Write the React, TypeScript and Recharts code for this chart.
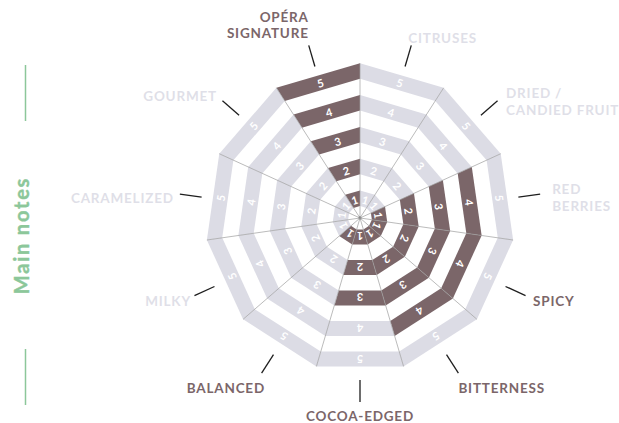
import { PieChart, Pie } from 'recharts'

// categories clockwise from the top
const categories = [
  'OPÉRA\nSIGNATURE',
  'CITRUSES',
  'DRIED /\nCANDIED FRUIT',
  'RED\nBERRIES',
  'SPICY',
  'BITTERNESS',
  'COCOA-EDGED',
  'BALANCED',
  'MILKY',
  'CARAMELIZED',
  'GOURMET',
]
const scores = [5, 0, 0, 4, 4, 4, 3, 1, 0, 0, 0]
const highlighted = [true, false, false, false, true, true, true, true, false, false, false]
const levels = [1, 2, 3, 4, 5]

const rows = categories.map((name, i) => ({ name, value: 1, score: scores[i], highlighted: highlighted[i] }))

const DARK = '#7b6669'
const LIGHT = '#dcdce5'
const LABEL_LIGHT = '#dfdfe8'
const GREEN = '#8cc79a'
const FONT = 'Lato, "Open Sans", sans-serif'

const CX = 360
const CY = 218
const STEP = 31.8
const FIRST_OUTER = 27.5
const THICK = 15.5
const outerOf = (level: number) => FIRST_OUTER + STEP * (level - 1)

const START = 90 + 360 / 11
const RAD = Math.PI / 180
const pt = (cx: number, cy: number, r: number, a: number) => [cx + r * Math.cos(-a * RAD), cy + r * Math.sin(-a * RAD)]

// text placement next to each leader end: anchor, dx, dy (first baseline)
const labelLayout: { anchor: 'start' | 'middle' | 'end'; dx: number; dy: number }[] = [
  { anchor: 'end', dx: 0, dy: -23.4 },
  { anchor: 'start', dx: -3, dy: -2.4 },
  { anchor: 'start', dx: 8.5, dy: -2.8 },
  { anchor: 'start', dx: 12, dy: 0 },
  { anchor: 'start', dx: 7.5, dy: 10.4 },
  { anchor: 'start', dx: 0, dy: 20 },
  { anchor: 'middle', dx: 0, dy: 18.5 },
  { anchor: 'end', dx: 3.4, dy: 20 },
  { anchor: 'end', dx: -3.5, dy: 10.4 },
  { anchor: 'end', dx: -6, dy: 9 },
  { anchor: 'end', dx: -5.5, dy: 0 },
]

const renderBand = (level: number) => (p: any) => {
  const { cx, cy, startAngle, endAngle, innerRadius, outerRadius } = p
  const score = p.score ?? p.payload?.score ?? 0
  const pts = [
    pt(cx, cy, innerRadius, startAngle),
    pt(cx, cy, outerRadius, startAngle),
    pt(cx, cy, outerRadius, endAngle),
    pt(cx, cy, innerRadius, endAngle),
  ]
  const mid = (startAngle + endAngle) / 2
  const half = Math.abs(startAngle - endAngle) / 2
  const r = ((innerRadius + outerRadius) / 2) * Math.cos(half * RAD)
  const [tx, ty] = pt(cx, cy, r, mid)
  return (
    <g key={`band-${level}-${p.index}`}>
      <polygon points={pts.map((q) => q.join(',')).join(' ')} fill={score >= level ? DARK : LIGHT} stroke="none" />
      <text
        x={tx}
        y={ty}
        transform={`rotate(${90 - mid} ${tx} ${ty})`}
        textAnchor="middle"
        dominantBaseline="central"
        fill="#fff"
        fontFamily={FONT}
        fontWeight={700}
        fontSize={11}
      >
        {level}
      </text>
    </g>
  )
}

const renderAxis = (p: any) => {
  const { cx, cy, startAngle, endAngle, outerRadius, index } = p
  const mid = (startAngle + endAngle) / 2
  const [vx, vy] = pt(cx, cy, outerRadius, startAngle)
  const [l1x, l1y] = pt(cx, cy + 2, 160, mid)
  const [l2x, l2y] = pt(cx, cy + 2, 182, mid)
  const lay = labelLayout[index]
  const lines = String(p.name).split('\n')
  const hl = p.highlighted ?? p.payload?.highlighted
  return (
    <g key={`axis-${index}`}>
      <line x1={cx} y1={cy} x2={vx} y2={vy} stroke="#9d9d9d" strokeWidth={0.7} />
      {index === 0 && <circle cx={cx} cy={cy} r={1.4} fill="#222" />}
      <line x1={l1x} y1={l1y} x2={l2x} y2={l2y} stroke="#1e1e1e" strokeWidth={1.3} />
      <text
        x={l2x + lay.dx}
        y={l2y + lay.dy}
        textAnchor={lay.anchor}
        fill={hl ? DARK : LABEL_LIGHT}
        fontFamily={FONT}
        fontWeight={700}
        fontSize={13.5}
        letterSpacing={0.8}
      >
        {lines.map((ln, i) => (
          <tspan key={i} x={l2x + lay.dx} dy={i === 0 ? 0 : 16.5}>
            {ln}
          </tspan>
        ))}
      </text>
    </g>
  )
}

export default function App() {
  return (
    <div style={{ position: 'absolute', left: 0, top: 0, width: 619, height: 423, background: '#fff' }}>
      <svg width={619} height={423} style={{ position: 'absolute', left: 0, top: 0 }}>
        <line x1={25.5} y1={65} x2={25.5} y2={121} stroke={GREEN} strokeWidth={1.5} />
        <line x1={25.5} y1={349} x2={25.5} y2={405} stroke={GREEN} strokeWidth={1.5} />
        <text
          transform="translate(29,235.5) rotate(-90)"
          textAnchor="middle"
          fill={GREEN}
          fontFamily={FONT}
          fontWeight={700}
          fontSize={20}
          letterSpacing={1.8}
          stroke={GREEN}
          strokeWidth={0.4}
        >
          Main notes
        </text>
      </svg>
      <div style={{ position: 'absolute', left: 0, top: 0 }}>
        <PieChart width={619} height={423} margin={{ top: 0, right: 0, bottom: 0, left: 0 }}>
          {levels.map((level) => (
            <Pie
              key={level}
              data={rows}
              dataKey="value"
              nameKey="name"
              cx={CX}
              cy={CY}
              startAngle={START}
              endAngle={START - 360}
              innerRadius={outerOf(level) - THICK}
              outerRadius={outerOf(level)}
              fill="none"
              stroke="none"
              label={renderBand(level)}
              labelLine={false}
              isAnimationActive={false}
            />
          ))}
          <Pie
            data={rows}
            dataKey="value"
            nameKey="name"
            cx={CX}
            cy={CY}
            startAngle={START}
            endAngle={START - 360}
            innerRadius={0}
            outerRadius={outerOf(5)}
            fill="none"
            stroke="none"
            label={renderAxis}
            labelLine={false}
            isAnimationActive={false}
          />
        </PieChart>
      </div>
    </div>
  )
}
